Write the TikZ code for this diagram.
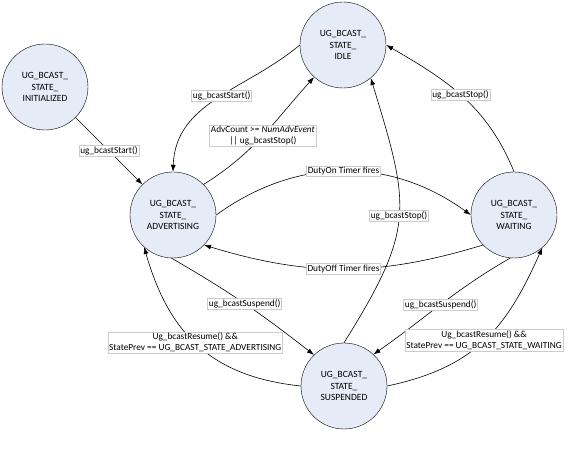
\documentclass[tikz,border=0pt]{standalone}
\usepackage{fontspec}
\setmainfont{Carlito}
\usetikzlibrary{arrows.meta}
\definecolor{stfill}{RGB}{230,236,247}
\tikzset{
stcirc/.style = {circle, draw, fill=stfill, minimum size=86pt,
                 inner sep=0pt, align=center,
                 font=\fontsize{9.5}{11.5}\selectfont},
lbl/.style = {draw=black!20, fill=white, inner sep=1.2pt,
              align=center, font=\fontsize{9.3}{11}\selectfont},
trans/.style = {-{Latex[length=7pt,width=5pt]}, line width=0.6pt}
}
\newcommand{\stnode}[3]{\node[stcirc] (#1) at (#2) {#3};}
\newcommand{\trn}[5]{\draw[trans] (#1) to[#3] node[lbl, pos=#4] {#5} (#2);}

\begin{document}
\begin{tikzpicture}[x=1pt, y=1pt]
    \useasboundingbox (0,0) rectangle (576,468);
    \stnode{init}{45,381}{UG\_BCAST\_\\STATE\_\\INITIALIZED}
    \stnode{idle}{343,423}{UG\_BCAST\_\\STATE\_\\IDLE}
    \stnode{adv}{173,253}{UG\_BCAST\_\\STATE\_\\ADVERTISING}
    \stnode{wait}{514,253}{UG\_BCAST\_\\STATE\_\\WAITING}
    \stnode{susp}{344,82}{UG\_BCAST\_\\STATE\_\\SUSPENDED}

    \trn{init}{adv}{}{0.5}{ug\_bcastStart()}
    \trn{idle.180}{adv.90}{out=220, in=88}{0.47}{ug\_bcastStart()}
    \trn{adv.45}{idle.228}{out=32, in=228}{0.5}{AdvCount >= \textit{NumAdvEvent}\\|| ug\_bcastStop()}
    \trn{wait.90}{idle.0}{out=112, in=330}{0.52}{ug\_bcastStop()}
    \trn{susp.90}{idle.310}{out=58, in=287, looseness=1.3}{0.5}{ug\_bcastStop()}
    \trn{adv.0}{wait.180}{out=36, in=144}{0.5}{DutyOn Timer fires}
    \trn{wait.224}{adv.316}{out=197, in=343}{0.5}{DutyOff Timer fires}
    \trn{adv.268}{susp.134}{out=-30, in=142}{0.5}{ug\_bcastSuspend()}
    \trn{susp.180}{adv.228}{out=174, in=286, looseness=1.1}{0.52}{Ug\_bcastResume() \&\&\\StatePrev == UG\_BCAST\_STATE\_ADVERTISING}
    \trn{wait.265}{susp.47}{out=210, in=35}{0.5}{ug\_bcastSuspend()}
    \trn{susp.0}{wait.311}{out=12, in=246, looseness=1.1}{0.5}{Ug\_bcastResume() \&\&\\StatePrev == UG\_BCAST\_STATE\_WAITING}
\end{tikzpicture}
\end{document}
